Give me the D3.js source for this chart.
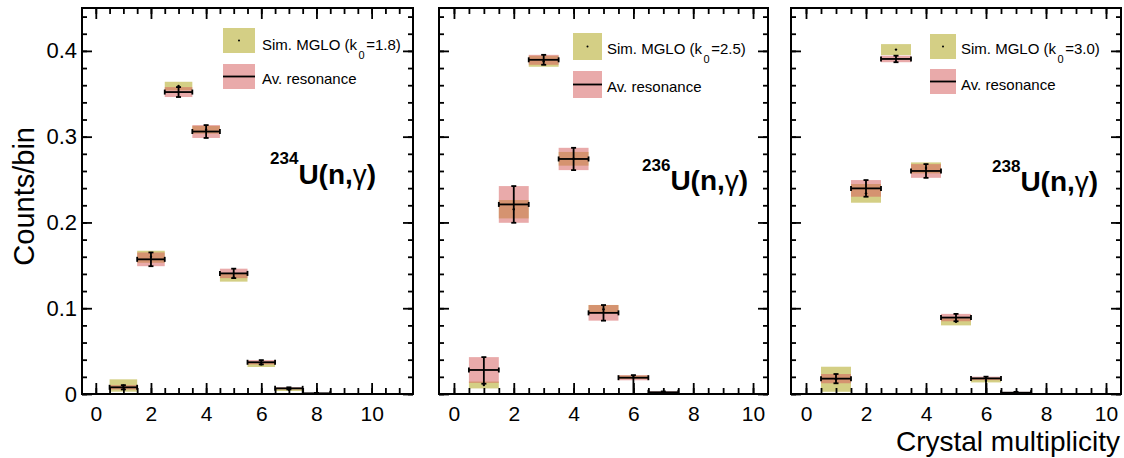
<!DOCTYPE html>
<html><head><meta charset="utf-8">
<script src="https://cdn.jsdelivr.net/npm/d3@7"></script>
<style>body{margin:0;background:#fff} svg{font-family:"Liberation Sans",Arial,Helvetica,sans-serif}</style>
</head><body><svg id="c" width="1124" height="458"></svg>
<script>
const bins = [1, 2, 3, 4, 5, 6, 7, 8];
const xTicks = [0, 2, 4, 6, 8, 10];
const yTicks = [0, 0.1, 0.2, 0.3, 0.4];
const nuclei = ["234", "236", "238"];
const k0Values = ["1.8", "2.5", "3.0"];

// 234U
const sim234    = [0.0099, 0.160, 0.359, 0.308, 0.136, 0.0345, 0.005, null];
const simErr234 = [0.0072, 0.007, 0.005, 0.0045, 0.005, 0.003, 0.0015, null];
const av234     = [0.0078, 0.157, 0.352, 0.306, 0.1406, 0.037, 0.0066, 0.0008];
const avErr234  = [0.0025, 0.008, 0.0058, 0.0075, 0.0055, 0.0025, 0.0012, 0.0005];
const avErrLo234 = [0.0025, 0.008, 0.0058, 0.0075, 0.0055, 0.0025, 0.0012, 0.0005];
// 236U
const sim236    = [0.0105, 0.2154, 0.3879, 0.2742, 0.0989, 0.0195, null, null];
const simErr236 = [0.004, 0.0107, 0.0064, 0.008, 0.0049, 0.002, null, null];
const av236     = [0.028, 0.221, 0.3896, 0.274, 0.0946, 0.019, 0.002, null];
const avErr236  = [0.015, 0.0214, 0.0058, 0.013, 0.0091, 0.003, 0.001, null];
const avErrLo236 = [0.016, 0.0214, 0.0058, 0.013, 0.0091, 0.019, 0.001, null];
// 238U
const sim238    = [0.0172, 0.2339, 0.4015, 0.2636, 0.0841, 0.0155, null, null];
const simErr238 = [0.0146, 0.0109, 0.0064, 0.0064, 0.0041, 0.002, null, null];
const av238     = [0.0179, 0.2397, 0.3906, 0.2600, 0.0891, 0.0182, 0.0015, null];
const avErr238  = [0.0054, 0.0097, 0.0038, 0.008, 0.0043, 0.002, 0.001, null];
const avErrLo238 = [0.0054, 0.0097, 0.0038, 0.008, 0.0043, 0.0182, 0.001, null];

const simColor = "#d4cf85";
const avColor = "rgba(214,94,94,0.53)";

const panels = [
  {nuc: nuclei[0], k0: k0Values[0], sim: sim234, simErr: simErr234, av: av234, avErr: avErr234, avErrLo: avErrLo234,
   xmax: 11.5, px: [82, 413], leg: {x: 223, y: 28, w: 32, h: 25, gap: 11, tx: 262, b1: 50, b2: 84}, lab: {x: 270, y: 164, dy: 20}, ylab: true},
  {nuc: nuclei[1], k0: k0Values[1], sim: sim236, simErr: simErr236, av: av236, avErr: avErr236, avErrLo: avErrLo236,
   xmax: 10.5, px: [439, 768], leg: {x: 573, y: 33, w: 29, h: 27, gap: 11, tx: 607, b1: 54, b2: 92}, lab: {x: 642, y: 171, dy: 19}, ylab: false},
  {nuc: nuclei[2], k0: k0Values[2], sim: sim238, simErr: simErr238, av: av238, avErr: avErr238, avErrLo: avErrLo238,
   xmax: 10.5, px: [791, 1121], leg: {x: 930, y: 34, w: 26, h: 25, gap: 10, tx: 961, b1: 54, b2: 90}, lab: {x: 992, y: 172, dy: 19}, ylab: false}
];

const svg = d3.select("#c");
const Y0 = 394, Y1 = 8;
const y = d3.scaleLinear().domain([0, 0.45]).range([Y0, Y1]);

panels.forEach((p, i) => {
  const x = d3.scaleLinear().domain([-0.5, p.xmax]).range(p.px);
  const g = svg.append("g");
  const clipId = "clip" + i;
  svg.append("clipPath").attr("id", clipId).append("rect")
    .attr("x", p.px[0]).attr("y", Y1).attr("width", p.px[1] - p.px[0]).attr("height", Y0 - Y1);
  const data = bins.map((b, j) => ({b, s: p.sim[j], se: p.simErr[j], a: p.av[j], ae: p.avErr[j], al: p.avErrLo[j]}));
  const pl = g.append("g").attr("clip-path", `url(#${clipId})`);

  const sd = data.filter(d => d.s != null);
  const ad = data.filter(d => d.a != null);
  pl.selectAll("rect.sim").data(sd).join("rect").attr("class", "sim")
    .attr("x", d => x(d.b - 0.5)).attr("width", d => x(d.b + 0.5) - x(d.b - 0.5))
    .attr("y", d => y(d.s + d.se)).attr("height", d => y(d.s - d.se) - y(d.s + d.se))
    .attr("fill", simColor);
  pl.selectAll("rect.av").data(ad).join("rect").attr("class", "av")
    .attr("x", d => x(d.b - 0.5)).attr("width", d => x(d.b + 0.5) - x(d.b - 0.5))
    .attr("y", d => y(d.a + d.ae)).attr("height", d => y(d.a - d.ae) - y(d.a + d.ae))
    .attr("fill", avColor);
  pl.selectAll("circle.simpt").data(sd).join("circle")
    .attr("cx", d => x(d.b)).attr("cy", d => y(d.s)).attr("r", 1.2).attr("fill", "#000");
  const eb = pl.append("g").attr("stroke", "#000").attr("stroke-width", 1.8).attr("fill", "none");
  ad.forEach(d => {
    const xl = x(d.b - 0.5), xr = x(d.b + 0.5), xc = x(d.b), yc = y(d.a);
    const yt = y(d.a + d.ae), yb = y(d.a - d.al);
    eb.append("line").attr("x1", xl).attr("x2", xr).attr("y1", yc).attr("y2", yc);
    eb.append("line").attr("x1", xl).attr("x2", xl).attr("y1", yc - 2.5).attr("y2", yc + 2.5);
    eb.append("line").attr("x1", xr).attr("x2", xr).attr("y1", yc - 2.5).attr("y2", yc + 2.5);
    eb.append("line").attr("x1", xc).attr("x2", xc).attr("y1", yt).attr("y2", yb);
    eb.append("line").attr("x1", xc - 2.5).attr("x2", xc + 2.5).attr("y1", yt).attr("y2", yt);
    eb.append("line").attr("x1", xc - 2.5).attr("x2", xc + 2.5).attr("y1", yb).attr("y2", yb);
  });

  const style = (s, fs) => {
    s.select(".domain").remove();
    s.selectAll(".tick line").attr("stroke", "#000").attr("stroke-width", 1.8);
    s.selectAll(".tick text").attr("fill", "#000").attr("font-size", fs)
      .attr("font-family", '"Liberation Sans",Arial,Helvetica,sans-serif');
    s.attr("font-family", null).attr("font-size", null);
  };
  const xMinor = d3.range(0, p.xmax, 0.5);
  const yMinor = d3.range(0, 0.4401, 0.02);
  g.append("g").attr("transform", `translate(0,${Y0})`)
    .call(d3.axisBottom(x).tickValues(xMinor).tickSize(-6).tickFormat(""))
    .call(s => style(s, 21));
  g.append("g").attr("transform", `translate(0,${Y0})`)
    .call(d3.axisBottom(x).tickValues(xTicks).tickSize(-11).tickPadding(12).tickFormat(d3.format("d")))
    .call(s => style(s, 21));
  g.append("g").attr("transform", `translate(0,${Y1})`)
    .call(d3.axisTop(x).tickValues(xMinor).tickSize(-6).tickFormat(""))
    .call(s => style(s, 21));
  g.append("g").attr("transform", `translate(0,${Y1})`)
    .call(d3.axisTop(x).tickValues(xTicks).tickSize(-11).tickFormat(""))
    .call(s => style(s, 21));
  g.append("g").attr("transform", `translate(${p.px[0]},0)`)
    .call(d3.axisLeft(y).tickValues(yMinor).tickSize(-5).tickFormat(""))
    .call(s => style(s, 22));
  g.append("g").attr("transform", `translate(${p.px[0]},0)`)
    .call(d3.axisLeft(y).tickValues(yTicks).tickSize(-10).tickPadding(5)
      .tickFormat(p.ylab ? (d => d === 0 ? "0" : d3.format(".1f")(d)) : ""))
    .call(s => style(s, 22));
  g.append("g").attr("transform", `translate(${p.px[1]},0)`)
    .call(d3.axisRight(y).tickValues(yMinor).tickSize(-5).tickFormat(""))
    .call(s => style(s, 22));
  g.append("g").attr("transform", `translate(${p.px[1]},0)`)
    .call(d3.axisRight(y).tickValues(yTicks).tickSize(-10).tickFormat(""))
    .call(s => style(s, 22));

  g.append("rect").attr("x", p.px[0]).attr("y", Y1).attr("width", p.px[1] - p.px[0]).attr("height", Y0 - Y1)
    .attr("fill", "none").attr("stroke", "#000").attr("stroke-width", 2);

  const L = p.leg;
  const lg = g.append("g");
  lg.append("rect").attr("x", L.x).attr("y", L.y).attr("width", L.w).attr("height", L.h).attr("fill", simColor);
  lg.append("circle").attr("cx", L.x + L.w / 2).attr("cy", L.y + L.h / 2).attr("r", 1).attr("fill", "#000");
  const py = L.y + L.h + L.gap;
  lg.append("rect").attr("x", L.x).attr("y", py).attr("width", L.w).attr("height", L.h).attr("fill", avColor);
  lg.append("line").attr("x1", L.x).attr("x2", L.x + L.w).attr("y1", py + L.h / 2).attr("y2", py + L.h / 2)
    .attr("stroke", "#000").attr("stroke-width", 1.8);
  const t1 = lg.append("text").attr("x", L.tx).attr("y", L.b1).attr("font-size", 15).attr("fill", "#000");
  t1.append("tspan").text("Sim. MGLO (k");
  t1.append("tspan").attr("font-size", 11).attr("dx", 1.5).attr("dy", 9).text("0");
  t1.append("tspan").attr("dx", 1.5).attr("dy", -9).text("=" + p.k0 + ")");
  lg.append("text").attr("x", L.tx).attr("y", L.b2).attr("font-size", 15).attr("fill", "#000").text("Av. resonance");

  const lt = g.append("text").attr("x", p.lab.x).attr("y", p.lab.y).attr("font-weight", "bold").attr("fill", "#000");
  lt.append("tspan").attr("font-size", 17).text(p.nuc);
  lt.append("tspan").attr("font-size", 28).attr("dy", p.lab.dy).text("U(n,");
  lt.append("tspan").attr("font-size", 28).attr("font-weight", "normal").text("γ");
  lt.append("tspan").attr("font-size", 28).text(")");
});

svg.append("text").attr("transform", "translate(34,127) rotate(-90)").attr("text-anchor", "end")
  .attr("font-size", 29).attr("fill", "#000").text("Counts/bin");
svg.append("text").attr("x", 1120).attr("y", 451).attr("text-anchor", "end")
  .attr("font-size", 28).attr("fill", "#000").text("Crystal multiplicity");
</script></body></html>
